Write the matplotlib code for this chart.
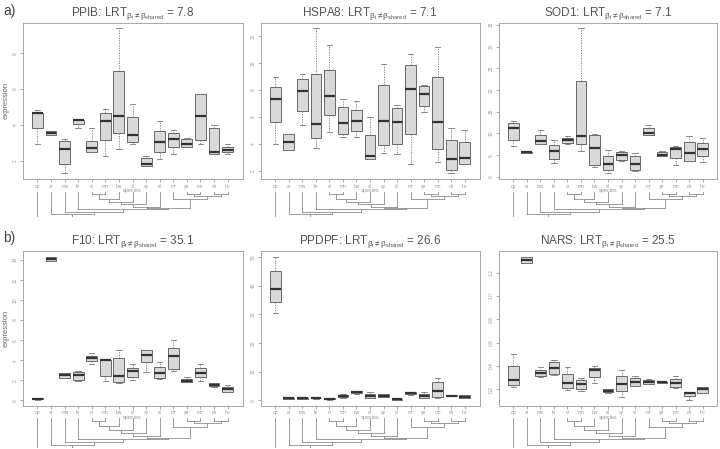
import matplotlib
matplotlib.use("Agg")
import matplotlib.pyplot as plt

plt.rcParams['font.family'] = ['Liberation Sans', 'DejaVu Sans']
plt.rcParams['mathtext.fontset'] = 'custom'
plt.rcParams['mathtext.rm'] = 'Liberation Sans'
plt.rcParams['mathtext.it'] = 'Liberation Sans'

species = ["op", "ar", "ma", "fe", "cr", "mn", "bw", "sf", "ay", "sl", "mr", "ye", "mc", "ch", "hu"]

genes = ["PPIB", "HSPA8", "SOD1", "F10", "PPDPF", "NARS"]
lrt = [7.8, 7.1, 7.1, 35.1, 26.6, 25.5]

# box stats: whisker low, q1, median, q3, whisker high
ppib_lo = [2.93, 3.42, 1.29, 3.83, 2.49, 2.24, 2.67, 2.95, 1.68, 2.06, 2.39, 2.73, 2.95, 2.36, 2.39]
ppib_q1 = [3.79, 3.42, 1.81, 4.02, 2.49, 3.12, 3.51, 3.05, 1.68, 2.49, 2.73, 2.73, 3.12, 2.36, 2.47]
ppib_med = [4.64, 3.53, 2.65, 4.24, 2.69, 4.22, 4.49, 3.42, 1.83, 3.01, 3.23, 2.95, 4.49, 2.50, 2.60]
ppib_q3 = [4.64, 3.63, 3.07, 4.26, 3.07, 4.64, 7.00, 4.41, 2.13, 3.63, 3.51, 3.21, 5.72, 3.81, 2.77]
ppib_hi = [4.80, 3.63, 3.18, 4.26, 3.81, 4.86, 9.38, 5.14, 2.28, 4.21, 3.68, 3.27, 5.72, 3.96, 2.90]

hspa8_lo = [3.98, 3.53, 5.36, 3.65, 4.86, 4.47, 4.47, 2.86, 3.31, 3.21, 2.47, 6.37, 2.64, 1.80, 2.47]
hspa8_q1 = [5.58, 3.53, 6.42, 4.42, 6.12, 4.69, 4.91, 2.86, 3.90, 3.98, 4.74, 6.81, 3.58, 2.07, 2.47]
hspa8_med = [7.33, 4.12, 7.93, 5.48, 7.53, 5.53, 5.68, 3.11, 5.65, 5.63, 8.10, 7.70, 5.63, 2.86, 2.94]
hspa8_q3 = [8.20, 4.74, 8.79, 9.16, 9.46, 6.72, 6.52, 4.64, 8.35, 6.64, 9.85, 8.27, 8.94, 4.27, 4.12]
hspa8_hi = [8.94, 4.74, 9.19, 12.57, 11.31, 7.33, 7.16, 5.95, 9.93, 6.86, 10.64, 8.37, 11.21, 5.16, 5.01]

sod1_lo = [7.08, 5.54, 7.60, 3.15, 7.46, 5.85, 2.23, 0.85, 3.62, 1.46, 9.54, 4.85, 2.77, 3.77, 3.54]
sod1_q1 = [8.54, 5.54, 7.62, 4.23, 7.85, 7.46, 2.85, 1.54, 4.00, 1.54, 9.54, 4.85, 4.38, 3.77, 4.85]
sod1_med = [11.23, 5.69, 8.23, 5.85, 8.54, 9.46, 6.62, 2.92, 5.00, 3.08, 10.15, 5.15, 6.38, 5.46, 6.46]
sod1_q3 = [12.46, 5.77, 9.69, 7.38, 8.92, 22.0, 9.69, 4.85, 5.69, 4.85, 11.31, 5.62, 6.92, 8.00, 7.77]
sod1_hi = [12.85, 5.77, 10.85, 8.54, 9.46, 34.15, 9.77, 6.23, 6.00, 5.54, 12.00, 5.85, 7.00, 9.31, 9.00]

f10_lo = [0.07, 13.84, 2.20, 1.90, 3.61, 1.93, 1.77, 2.00, 2.82, 2.10, 2.95, 1.84, 1.90, 1.38, 0.82]
f10_q1 = [0.10, 13.84, 2.20, 2.07, 3.90, 2.39, 1.84, 2.36, 3.87, 2.26, 3.18, 1.84, 2.30, 1.41, 0.89]
f10_med = [0.16, 14.07, 2.56, 2.52, 4.20, 4.00, 2.39, 2.92, 4.49, 2.72, 4.39, 1.97, 2.75, 1.57, 1.18]
f10_q3 = [0.23, 14.30, 2.75, 2.82, 4.46, 4.03, 4.20, 3.28, 4.98, 3.31, 5.25, 2.13, 3.21, 1.70, 1.38]
f10_hi = [0.26, 14.30, 2.75, 2.92, 4.72, 4.03, 4.98, 3.67, 5.05, 3.87, 6.03, 2.30, 3.64, 1.74, 1.51]

ppdpf_lo = [30.5, 0.4, 0.4, 0.5, 0.2, 0.9, 2.2, 0.6, 1.0, 0.15, 1.85, 0.8, 0.9, 1.3, 0.6]
ppdpf_q1 = [34.3, 0.45, 0.45, 0.6, 0.3, 1.04, 2.4, 0.7, 1.15, 0.2, 2.1, 0.9, 1.0, 1.4, 0.6]
ppdpf_med = [39.0, 0.6, 0.6, 0.7, 0.45, 1.5, 2.9, 1.3, 1.6, 0.3, 2.5, 1.4, 3.35, 1.6, 1.05]
ppdpf_q3 = [45.0, 0.7, 0.7, 0.8, 0.6, 1.85, 3.1, 2.1, 2.0, 0.4, 2.8, 2.0, 6.5, 1.85, 1.7]
ppdpf_hi = [50.1, 0.8, 0.8, 0.9, 0.7, 2.1, 3.3, 2.8, 2.2, 0.45, 3.0, 3.0, 7.85, 1.95, 1.8]

nars_lo = [0.223, 1.279, 0.305, 0.324, 0.194, 0.189, 0.256, 0.172, 0.135, 0.228, 0.245, 0.256, 0.214, 0.110, 0.166]
nars_q1 = [0.234, 1.279, 0.316, 0.330, 0.211, 0.203, 0.302, 0.177, 0.189, 0.228, 0.245, 0.256, 0.223, 0.141, 0.169]
nars_med = [0.282, 1.310, 0.336, 0.384, 0.256, 0.248, 0.364, 0.189, 0.245, 0.262, 0.262, 0.259, 0.256, 0.172, 0.200]
nars_q3 = [0.398, 1.336, 0.367, 0.437, 0.330, 0.282, 0.384, 0.200, 0.313, 0.296, 0.279, 0.265, 0.288, 0.177, 0.217]
nars_hi = [0.500, 1.336, 0.389, 0.451, 0.389, 0.299, 0.403, 0.203, 0.369, 0.313, 0.288, 0.265, 0.310, 0.177, 0.223]

ppib_ticks = [2, 4, 6, 8]
hspa8_ticks = [2, 4, 6, 8, 10, 12]
sod1_ticks = [0, 5, 10, 15, 20, 25, 30, 35]
f10_ticks = [0, 2, 4, 6, 8, 10, 12, 14]
ppdpf_ticks = [0, 10, 20, 30, 40, 50]
nars_ticks = [0.2, 0.4, 0.6, 0.8, 1.0, 1.2]
nars_ticklabels = ["0.2", "0.4", "0.6", "0.8", "1.0", "1.2"]

# species tree (same in every panel) and depth of each joining node
tree = ("op", ("ar", ("ma", ("fe", (((((("cr", "mn"), "bw"), "sf"), "ay"), "sl"),
                                   ("mr", (("ye", "mc"), ("ch", "hu"))))))))
node_depth = {("cr", "mn"): 2.5, ("cr", "bw"): 7, ("cr", "sf"): 10.5, ("cr", "ay"): 12.5,
              ("cr", "sl"): 15, ("ye", "mc"): 2.5, ("ch", "hu"): 2.5, ("ye", "hu"): 4.5,
              ("mr", "hu"): 7.5, ("cr", "hu"): 16.5, ("fe", "hu"): 17.5, ("ma", "hu"): 20,
              ("ar", "hu"): 22.5, ("op", "hu"): 25}

panels = [
    (ppib_lo, ppib_q1, ppib_med, ppib_q3, ppib_hi, ppib_ticks, None),
    (hspa8_lo, hspa8_q1, hspa8_med, hspa8_q3, hspa8_hi, hspa8_ticks, None),
    (sod1_lo, sod1_q1, sod1_med, sod1_q3, sod1_hi, sod1_ticks, None),
    (f10_lo, f10_q1, f10_med, f10_q3, f10_hi, f10_ticks, None),
    (ppdpf_lo, ppdpf_q1, ppdpf_med, ppdpf_q3, ppdpf_hi, ppdpf_ticks, None),
    (nars_lo, nars_q1, nars_med, nars_q3, nars_hi, nars_ticks, nars_ticklabels),
]

W, H = 720, 449
fig = plt.figure(figsize=(7.2, 4.49), dpi=100)


def rect(x0, y0, x1, y1):
    return [x0 / W, 1 - y1 / H, (x1 - x0) / W, (y1 - y0) / H]


cols = [(22.5, 242.5), (260.5, 479.5), (498.5, 717.5)]
rows = [(22.7, 179.0), (251.0, 405.5)]
tree_rows = [(192.0, 217.0), (418.0, 448.0)]
grey = "#8c8c8c"
pos = {s: i + 1 for i, s in enumerate(species)}


def leaves(node):
    if isinstance(node, str):
        return [node]
    return leaves(node[0]) + leaves(node[1])


def draw_tree(ax, node):
    if isinstance(node, str):
        return pos[node], 0
    xl, yl = draw_tree(ax, node[0])
    xr, yr = draw_tree(ax, node[1])
    lv = leaves(node)
    d = node_depth[(lv[0], lv[-1])]
    ax.plot([xl, xl], [yl, d], color=grey, lw=0.6)
    ax.plot([xr, xr], [yr, d], color=grey, lw=0.6)
    ax.plot([xl, xr], [d, d], color=grey, lw=0.6)
    return (xl + xr) / 2, d


for k in range(6):
    lo, q1, med, q3, hi, ticks, ticklabels = panels[k]
    r = k // 3
    c = k % 3
    x0, x1 = cols[c]
    y0, y1 = rows[r]
    ax = fig.add_axes(rect(x0, y0, x1, y1))

    stats = []
    for i in range(len(species)):
        stats.append(dict(whislo=lo[i], q1=q1[i], med=med[i], q3=q3[i], whishi=hi[i]))
    ax.bxp(stats, positions=list(range(1, 16)), widths=0.8, capwidths=0.4,
           showfliers=False, patch_artist=True,
           boxprops=dict(facecolor="#d9d9d9", edgecolor="#555555", linewidth=0.6),
           medianprops=dict(color="#333333", linewidth=1.6),
           whiskerprops=dict(color="#777777", linewidth=0.6, linestyle=(0, (1.5, 1.5))),
           capprops=dict(color="#777777", linewidth=0.6))

    # R style 4% padding
    ymin, ymax = min(lo), max(hi)
    pad = (ymax - ymin) * 0.04
    ax.set_ylim(ymin - pad, ymax + pad)
    ax.set_xlim(-0.1, 16.1)
    ax.set_yticks(ticks)
    if ticklabels is not None:
        ax.set_yticklabels(ticklabels)
    ax.set_xticks(range(1, 16))
    ax.set_xticklabels(species)
    for t in ax.get_yticklabels():
        t.set_rotation(90)
        t.set_va("center")
    ax.tick_params(axis="both", length=2, width=0.5, color=grey, labelcolor="#999999",
                   labelsize=3.5, pad=1.5)
    for sp in ax.spines.values():
        sp.set_color("#999999")
        sp.set_linewidth(0.6)

    ax.set_title(genes[k] + r": LRT$_{\beta_i \neq \beta_{\mathrm{shared}}}$ = " + str(lrt[k]),
                 fontsize=8.5, color="#555555", pad=5)
    if c == 0:
        ax.set_ylabel("expression", fontsize=5.5, color="#666666", labelpad=2)

    fig.text((x0 + x1) / 2 / W, 1 - (y1 + 11.5) / H, "species", fontsize=4,
             color="#999999", ha="center", va="center")

    ty0, ty1 = tree_rows[r]
    tax = fig.add_axes(rect(x0, ty0, x1, ty1))
    draw_tree(tax, tree)
    tax.set_xlim(-0.1, 16.1)
    tax.set_ylim(25.3, 0)
    tax.axis("off")

fig.text(3 / W, 1 - 11 / H, "a)", fontsize=10, color="#444444", va="center")
fig.text(3 / W, 1 - 238 / H, "b)", fontsize=10, color="#444444", va="center")

fig.savefig("out.png", dpi=100)
